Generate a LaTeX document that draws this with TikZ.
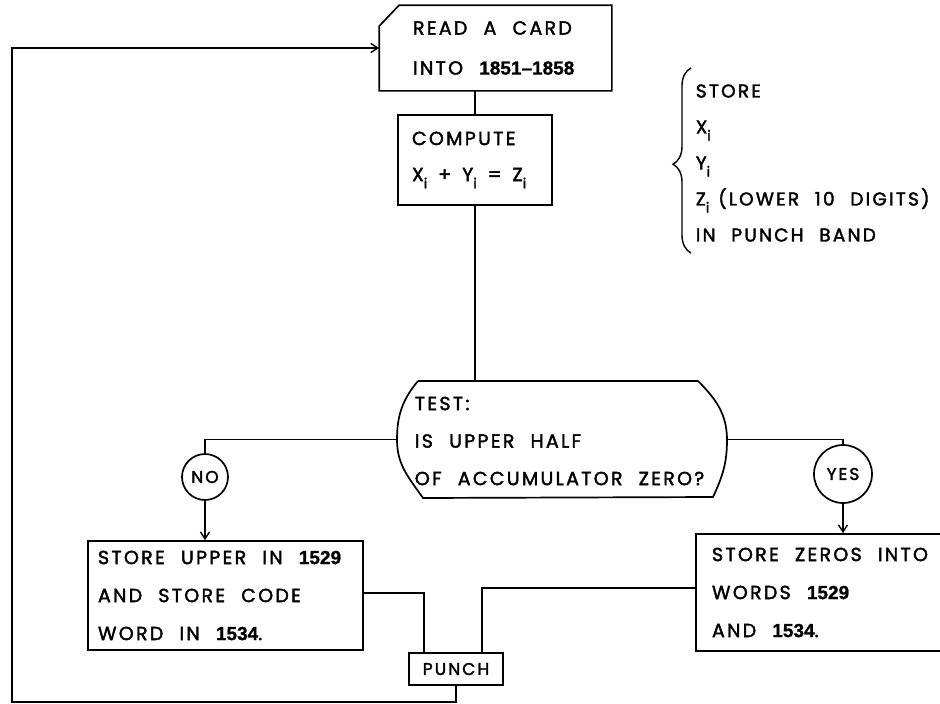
\documentclass[tikz,border=0pt]{standalone}
\usepackage{fontspec}
\setmainfont{Poppins}[LetterSpace=12,WordSpace=2.2,FakeBold=2]
\newfontfamily\numfont{Liberation Sans}[FakeBold=1]
\usetikzlibrary{arrows.meta,calc,decorations.pathreplacing}
\newcommand\mysub{\raisebox{-0.7ex}{\fontsize{14}{14}\selectfont i}}
\newcommand\nm[1]{{\numfont\bfseries #1}}
\newcommand\ws{\spaceskip=0pt\xspaceskip=0pt\relax}
\newcommand\gp{\hspace{11pt}}
\begin{document}
\begin{tikzpicture}[x=1pt,y=-1pt,
  line width=1.7pt,
  every node/.style={font=\fontsize{19}{38}\selectfont},
  box/.style={draw,rectangle,inner sep=0pt,align=left},
  circ/.style={draw,circle,inner sep=0pt,font=\fontsize{17}{17}\selectfont},
  arr/.style={-{Straight Barb[length=7pt,width=9pt,line width=1.4pt]}}]
\useasboundingbox (0,0) rectangle (940,704);
% read a card
\node[minimum width=231pt,minimum height=84pt,inner sep=0pt,
  text width=165pt,align=left,font=\fontsize{19}{40}\selectfont]
  (card) at (495.5,48) {\ws\mbox{READ A CARD}\\\mbox{INTO \nm{1851–1858}}};
\draw (card.south west) -- (card.south east) -- (card.north east)
  -- ($(card.north west)+(20,0)$) -- ($(card.north west)+(0,21)$) -- cycle;
% compute
\node[box,minimum width=154pt,minimum height=90pt,text width=126pt,
  font=\fontsize{19}{36}\selectfont]
  (comp) at (475,160) {\ws\mbox{COMPUTE}\\\mbox{X\mysub\gp+\gp Y\mysub\gp=\gp Z\mysub}};
% note
\node[align=left,anchor=west,inner sep=0pt,font=\fontsize{18.5}{36}\selectfont]
  (note) at (695,163) {STORE\\X\mysub\\Y\mysub\\Z\mysub\hspace{9pt}(LOWER 10 DIGITS)\\IN PUNCH BAND};
\draw[decorate,decoration={brace,amplitude=18pt,aspect=0.48},line width=1.4pt]
  (691,253) -- (691,68);
% test
\node[minimum width=330pt,minimum height=117pt,inner sep=0pt] (test) at (562,439.5) {};
\draw (418,381) -- (698,381) to[out=-45,in=90] (727,440) to[out=-90,in=65] (713,497)
  -- (423,498) to[out=125,in=-90] (397,440) to[out=90,in=-130] (418,381);
\node[anchor=west,align=left,inner sep=0pt,font=\fontsize{19}{37.5}\selectfont]
  (testtext) at (414,441) {TEST:\\IS UPPER HALF\\OF ACCUMULATOR ZERO?};
% circles
\node[circ,minimum size=46pt] (no) at (205,477) {NO};
\node[circ,minimum size=58pt] (yes) at (843,474) {YES};
% boxes
\node[box,minimum width=275pt,minimum height=109pt,text width=255pt]
  (lbox) at (225.5,595.5) {\ws STORE UPPER IN \nm{1529}\\AND STORE CODE\\WORD IN \nm{1534}.};
\node[box,minimum width=290pt,minimum height=117pt,text width=258pt]
  (rbox) at (841,592.5) {\ws STORE ZEROS INTO\\WORDS \nm{1529}\\AND \nm{1534}.};
\node[box,minimum width=94pt,minimum height=32pt,align=center,font=\fontsize{17}{17}\selectfont]
  (punch) at (456,669) {PUNCH};
% connectors
\draw (comp.north) -- (comp.north |- card.south);
\draw (comp.south) -- (comp.south |- test.north);
\draw (test.west) -| (no.north);
\draw[arr] (no.south) -- (no.south |- lbox.north);
\draw (test.east) -| (yes.north);
\draw[arr] (yes.south) -- (yes.south |- rbox.north);
\coordinate (pl) at ($(punch.north west)+(16,0)$);
\coordinate (pr) at ($(punch.north east)+(-22,0)$);
\draw ([yshift=2.5pt]lbox.east) -| (pl);
\draw ([yshift=4.5pt]rbox.west) -| (pr);
\coordinate (lc) at (12,702);
\draw[arr] (punch.south) |- (lc) |- (card.west);
\end{tikzpicture}
\end{document}
